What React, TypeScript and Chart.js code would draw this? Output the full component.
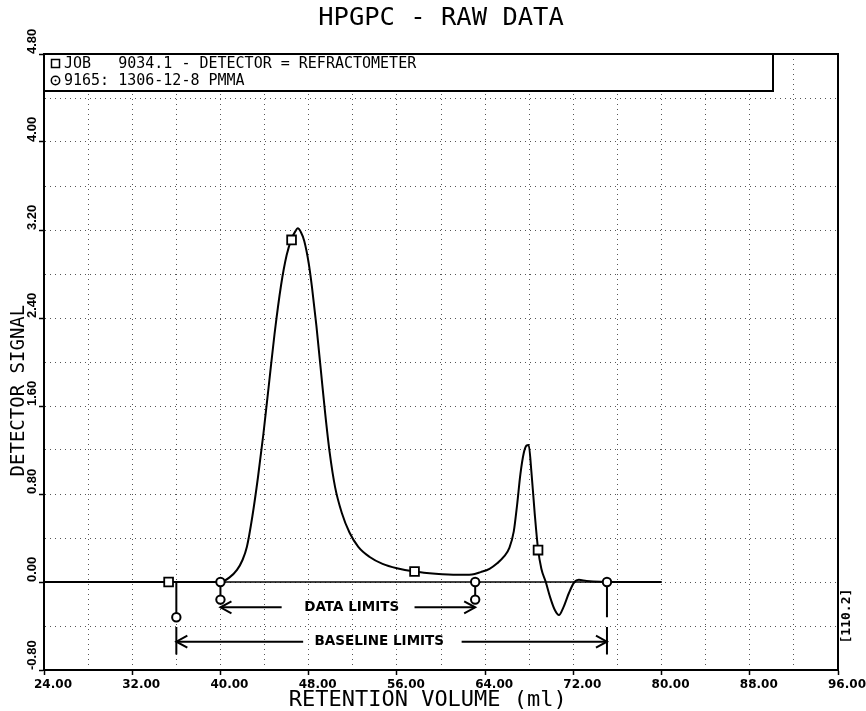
import React, { useEffect, useRef } from "react";
import { Chart, registerables } from "chart.js";

Chart.register(...registerables);

// ---------- data ----------
const volume = [
  24, 30, 36, 39, 40, 40.8, 41.5, 42.0, 42.4, 42.9, 43.4, 43.9, 44.4, 44.9, 45.5, 46.0, 46.45, 46.8,
  47.0, 47.3, 47.6, 48.0, 48.3, 48.7, 49.1, 49.5, 49.9, 50.4, 51.0, 51.7, 52.5, 53.5, 54.7, 56.0,
  57.6, 59.5, 61.5, 62.8, 63.6, 64.4, 65.1, 65.7, 66.2, 66.6, 66.9, 67.2, 67.5, 67.75, 67.95, 68.2,
  68.5, 68.8, 69.1, 69.5, 69.9, 70.3, 70.7, 71.1, 71.6, 72.1, 72.5, 73.2, 76, 80,
];
const signal = [
  0, 0, 0, 0, 0, 0.04, 0.11, 0.2, 0.32, 0.6, 0.95, 1.35, 1.8, 2.25, 2.7, 2.97, 3.12, 3.19,
  3.215, 3.18, 3.1, 2.9, 2.68, 2.33, 1.93, 1.53, 1.18, 0.86, 0.63, 0.45, 0.32, 0.23, 0.165, 0.125,
  0.095, 0.075, 0.065, 0.068, 0.09, 0.12, 0.17, 0.23, 0.31, 0.46, 0.7, 0.98, 1.17, 1.24, 1.245, 1.0,
  0.62, 0.3, 0.12, 0.0, -0.14, -0.25, -0.3, -0.23, -0.1, 0.0, 0.02, 0.01, 0, 0,
];
const baselineVolume = [24, 80];
const baselineSignal = [0, 0];

const squareVolume = [35.3, 46.45, 57.6, 68.8];
const squareSignal = [0, 3.11, 0.095, 0.29];
const circleVolume = [40.0, 63.1, 75.05, 40.0, 63.1, 36.0];
const circleSignal = [0, 0, 0, -0.16, -0.16, -0.32];

const dataLimits = [40.0, 63.1];
const baselineLimits = [36.0, 75.05];
const dataLimitDrop = -0.16;
const baselineLimitDrop = -0.32;
const dataArrowSignal = -0.23;
const baselineArrowSignal = -0.543;
const dataArrowGap = [45.55, 57.6];
const baselineArrowGap = [47.5, 61.87];
const baselineBar = [-0.41, -0.66];

const xTickValues = [24, 32, 40, 48, 56, 64, 72, 80, 88, 96];
const yTickValues = [-0.8, 0, 0.8, 1.6, 2.4, 3.2, 4.0, 4.8];

const chartTitle = "HPGPC - RAW DATA";
const xTitle = "RETENTION VOLUME (ml)";
const yTitle = "DETECTOR SIGNAL";
const legendLines = ["JOB   9034.1 - DETECTOR = REFRACTOMETER", "9165: 1306-12-8 PMMA"];
const dataLimitsLabel = { text: "DATA LIMITS", x: 51.9, y: dataArrowSignal };
const baselineLimitsLabel = { text: "BASELINE LIMITS", x: 54.4, y: baselineArrowSignal };
const sideNote = { text: "[110.2]", y: -0.31 };

// ---------- styling ----------
const MONO = "'DejaVu Sans Mono', monospace";
const SANS = "'DejaVu Sans', sans-serif";
const ARIAL = "'Liberation Sans', sans-serif";

const isMajorX = (v: number) => xTickValues.some((t) => Math.abs(t - v) < 1e-6);
const isMajorY = (v: number) => yTickValues.some((t) => Math.abs(t - v) < 1e-6);
const fmt = (v: number) => {
  const r = Math.round(v * 100) / 100;
  return (Math.abs(r) < 1e-9 ? 0 : r).toFixed(2);
};

const pts = (xs: number[], ys: number[]) => xs.map((x, i) => ({ x, y: ys[i] }));

const segments: { x: number; y: number }[][] = [
  [{ x: baselineLimits[0], y: 0 }, { x: baselineLimits[0], y: baselineLimitDrop }],
  [{ x: dataLimits[0], y: 0 }, { x: dataLimits[0], y: dataLimitDrop }],
  [{ x: dataLimits[1], y: 0 }, { x: dataLimits[1], y: dataLimitDrop }],
  [{ x: baselineLimits[1], y: 0 }, { x: baselineLimits[1], y: baselineLimitDrop }],
  [{ x: dataLimits[0], y: dataArrowSignal }, { x: dataArrowGap[0], y: dataArrowSignal }],
  [{ x: dataArrowGap[1], y: dataArrowSignal }, { x: dataLimits[1], y: dataArrowSignal }],
  [{ x: baselineLimits[0], y: baselineArrowSignal }, { x: baselineArrowGap[0], y: baselineArrowSignal }],
  [{ x: baselineArrowGap[1], y: baselineArrowSignal }, { x: baselineLimits[1], y: baselineArrowSignal }],
  [{ x: baselineLimits[0], y: baselineBar[0] }, { x: baselineLimits[0], y: baselineBar[1] }],
  [{ x: baselineLimits[1], y: baselineBar[0] }, { x: baselineLimits[1], y: baselineBar[1] }],
];

const decorPlugin = {
  id: "decor",
  afterDatasetsDraw(chart: any) {
    const { ctx, chartArea: a, scales } = chart;
    const x = scales.x;
    const y = scales.y;
    ctx.save();
    ctx.strokeStyle = "#000";
    ctx.fillStyle = "#000";
    ctx.lineWidth = 2;
    // top & right frame
    ctx.beginPath();
    ctx.moveTo(a.left, a.top);
    ctx.lineTo(a.right, a.top);
    ctx.lineTo(a.right, a.bottom);
    ctx.stroke();

    // legend box
    const bx = a.left;
    const by = a.top;
    const bw = 729;
    const bh = 37;
    ctx.fillStyle = "#fff";
    ctx.fillRect(bx, by, bw, bh);
    ctx.strokeRect(bx, by, bw, bh);
    ctx.fillStyle = "#000";
    ctx.font = `15px ${MONO}`;
    ctx.textAlign = "left";
    ctx.textBaseline = "middle";
    const r1 = by + 9.5;
    const r2 = by + 26.5;
    ctx.lineWidth = 1.5;
    ctx.strokeRect(bx + 7.5, r1 - 4, 8, 8);
    ctx.beginPath();
    ctx.arc(bx + 11.5, r2, 4.2, 0, Math.PI * 2);
    ctx.stroke();
    ctx.beginPath();
    ctx.arc(bx + 11.5, r2, 1, 0, Math.PI * 2);
    ctx.fill();
    ctx.fillText(legendLines[0], bx + 20, r1 + 0.5);
    ctx.fillText(legendLines[1], bx + 20, r2 + 0.5);

    // arrowheads
    ctx.lineWidth = 2;
    const head = (vx: number, vy: number, dir: number) => {
      const px = x.getPixelForValue(vx);
      const py = y.getPixelForValue(vy);
      ctx.beginPath();
      ctx.moveTo(px + dir * 11, py - 6);
      ctx.lineTo(px, py);
      ctx.lineTo(px + dir * 11, py + 6);
      ctx.stroke();
    };
    head(dataLimits[0], dataArrowSignal, 1);
    head(dataLimits[1], dataArrowSignal, -1);
    head(baselineLimits[0], baselineArrowSignal, 1);
    head(baselineLimits[1], baselineArrowSignal, -1);

    // annotation labels
    ctx.font = `bold 13.5px ${SANS}`;
    ctx.textAlign = "center";
    ctx.textBaseline = "middle";
    for (const l of [dataLimitsLabel, baselineLimitsLabel]) {
      ctx.fillText(l.text, x.getPixelForValue(l.x), y.getPixelForValue(l.y));
    }

    // side note
    ctx.save();
    ctx.translate(a.right + 9, y.getPixelForValue(sideNote.y));
    ctx.rotate(-Math.PI / 2);
    ctx.font = `bold 13px ${MONO}`;
    ctx.fillText(sideNote.text, 0, 0);
    ctx.restore();

    ctx.restore();
  },
};

export default function App() {
  const ref = useRef<HTMLCanvasElement>(null);
  useEffect(() => {
    document.body.style.margin = "0";
    const canvas = ref.current!;
    const lineDs = (data: any[], width: number, order: number) => ({
      data,
      showLine: true,
      borderColor: "#000",
      borderWidth: width,
      pointRadius: 0,
      fill: false,
      order,
    });
    const chart = new Chart(canvas, {
      type: "scatter",
      data: {
        datasets: [
          {
            data: pts(squareVolume, squareSignal),
            showLine: false,
            pointStyle: "rect",
            pointRadius: 6.2,
            borderColor: "#000",
            backgroundColor: "#fff",
            borderWidth: 1.8,
            order: 0,
          },
          {
            data: pts(circleVolume, circleSignal),
            showLine: false,
            pointStyle: "circle",
            pointRadius: 4.2,
            borderColor: "#000",
            backgroundColor: "#fff",
            borderWidth: 2,
            order: 0,
          },
          { ...lineDs(pts(volume, signal), 2, 1), cubicInterpolationMode: "monotone" },
          lineDs(pts(baselineVolume, baselineSignal), 1.6, 2),
          ...segments.map((s) => lineDs(s, 2, 3)),
        ] as any,
      },
      options: {
        animation: false,
        responsive: false,
        events: [],
        layout: { padding: { left: 26, right: 28, top: 0, bottom: 0 } },
        plugins: {
          legend: { display: false },
          tooltip: { enabled: false },
          title: {
            display: true,
            text: chartTitle,
            fullSize: false,
            color: "#000",
            font: { family: MONO, size: 25.5, weight: "normal", lineHeight: 1 },
            padding: { top: 6, bottom: 22.5 },
          },
        },
        scales: {
          x: {
            type: "linear",
            position: "bottom",
            min: 24,
            max: 96,
            afterFit: (s: any) => {
              s.height = 41;
            },
            ticks: {
              stepSize: 4,
              autoSkip: false,
              minRotation: 0,
              maxRotation: 0,
              labelOffset: 9,
              padding: 3,
              color: "#000",
              font: { family: SANS, size: 12, weight: "bold" },
              callback: (v: any) => (isMajorX(Number(v)) ? fmt(Number(v)) : ""),
            },
            grid: {
              color: "#555",
              lineWidth: 1,
              tickLength: 5,
              tickWidth: 1.5,
              tickColor: (c: any) => (c.tick && isMajorX(c.tick.value) ? "#000" : "rgba(0,0,0,0)"),
            },
            border: { display: true, color: "#000", width: 2, dash: [1, 4] },
            title: {
              display: true,
              text: xTitle + "  ",
              color: "#000",
              font: { family: MONO, size: 22, weight: "normal", lineHeight: 1 },
              padding: { top: 0, bottom: 0 },
            },
          },
          y: {
            type: "linear",
            position: "left",
            min: -0.8,
            max: 4.8,
            afterFit: (s: any) => {
              s.width = 18;
            },
            ticks: {
              stepSize: 0.4,
              autoSkip: false,
              minRotation: 90,
              maxRotation: 90,
              crossAlign: "far",
              align: "start",
              padding: 0,
              color: "#000",
              font: { family: ARIAL, size: 13, weight: "bold" },
              callback: (v: any) => (isMajorY(Number(v)) ? fmt(Number(v)) : ""),
            },
            grid: {
              color: "#555",
              lineWidth: 1,
              tickLength: 5,
              tickWidth: 1.5,
              tickColor: (c: any) => (c.tick && isMajorY(c.tick.value) ? "#000" : "rgba(0,0,0,0)"),
            },
            border: { display: true, color: "#000", width: 2, dash: [1, 4] },
            title: {
              display: true,
              text: yTitle + "     ",
              color: "#000",
              font: { family: MONO, size: 19, weight: "normal", lineHeight: 1 },
              padding: { top: -16, bottom: 0 },
            },
          },
        },
      } as any,
      plugins: [decorPlugin],
    });
    return () => chart.destroy();
  }, []);
  return (
    <div style={{ width: 866, height: 711 }}>
      <canvas ref={ref} width={866} height={711} style={{ display: "block" }} />
    </div>
  );
}
